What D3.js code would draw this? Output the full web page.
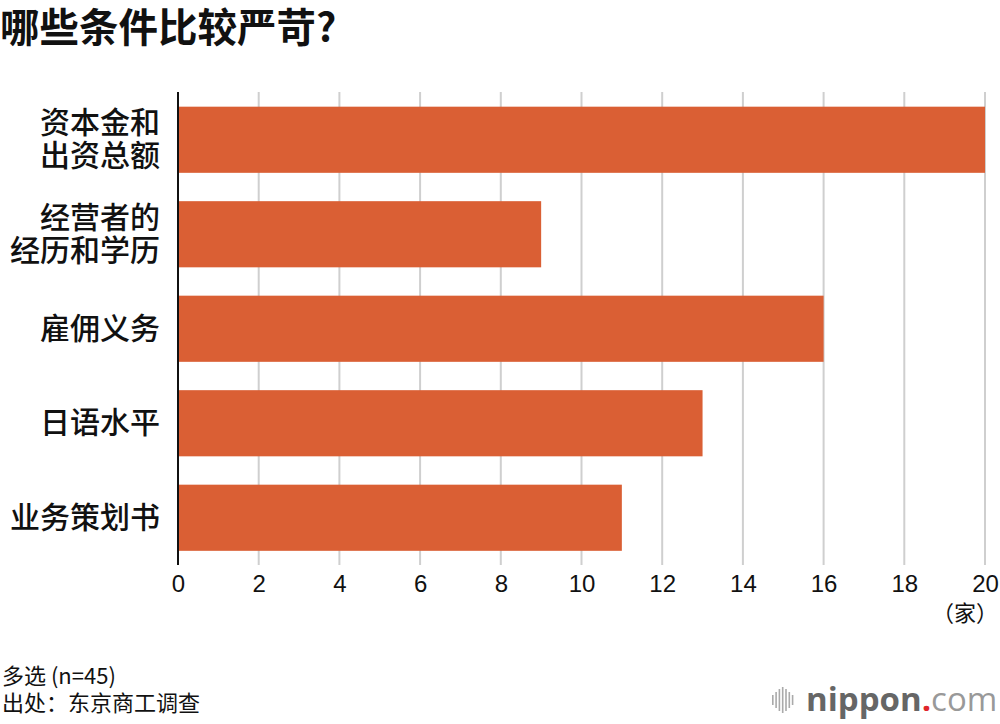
<!DOCTYPE html>
<html>
<head>
<meta charset="utf-8">
<script src="https://cdn.jsdelivr.net/npm/d3@7"></script>
<style>
  body { margin: 0; background: #fff; }
  text { font-family: "Liberation Sans", "Noto Sans CJK SC", sans-serif; }
  .cjk { font-family: "Noto Sans CJK SC", sans-serif; }
</style>
</head>
<body>
<svg width="1000" height="724"></svg>
<script>
// 数据
let categories = [["资本金和", "出资总额"], ["经营者的", "经历和学历"], ["雇佣义务"], ["日语水平"], ["业务策划书"]];
let values = [20, 9, 16, 13, 11];
let xTicks = [0, 2, 4, 6, 8, 10, 12, 14, 16, 18, 20];

let svg = d3.select("svg");

// 标题
svg.append("text")
  .attr("class", "cjk")
  .attr("x", 0).attr("y", 42)
  .attr("font-size", 39.5).attr("font-weight", "bold")
  .attr("fill", "#111")
  .text("哪些条件比较严苛?");

let x = d3.scaleLinear().domain([0, 20]).range([178, 985]);
let y = d3.scaleBand()
  .domain(d3.range(values.length))
  .range([92.5, 565])
  .paddingInner(0.3)
  .paddingOuter(0.15);

// 网格线
svg.selectAll("line.grid")
  .data(xTicks.slice(1))
  .enter().append("line")
  .attr("class", "grid")
  .attr("x1", d => x(d)).attr("x2", d => x(d))
  .attr("y1", 92).attr("y2", 565)
  .attr("stroke", "#cfcfcf").attr("stroke-width", 2);

// 柱
svg.selectAll("rect.bar")
  .data(values)
  .enter().append("rect")
  .attr("class", "bar")
  .attr("x", x(0))
  .attr("y", (d, i) => y(i))
  .attr("width", d => x(d) - x(0))
  .attr("height", y.bandwidth())
  .attr("fill", "#da5f34");

// 纵轴线
svg.append("line")
  .attr("x1", x(0)).attr("x2", x(0))
  .attr("y1", 92).attr("y2", 565)
  .attr("stroke", "#111").attr("stroke-width", 2);

// 分类标签
categories.forEach(function(lines, i) {
  let cy = y(i) + y.bandwidth() / 2;
  let lh = 33;
  lines.forEach(function(s, j) {
    svg.append("text")
      .attr("class", "cjk")
      .attr("text-anchor", "end")
      .attr("font-size", 30)
      .attr("font-weight", 500)
      .attr("fill", "#111")
      .attr("x", 160)
      .attr("y", cy + (j - (lines.length - 1) / 2) * lh + 10)
      .text(s);
  });
});

// 横轴刻度
let xAxis = svg.append("g")
  .attr("transform", "translate(0,565)")
  .call(d3.axisBottom(x).tickValues(xTicks).tickSize(0).tickPadding(0));
xAxis.select(".domain").remove();
xAxis.selectAll("text")
  .attr("y", 27)
  .attr("dy", 0)
  .attr("font-size", 24)
  .attr("fill", "#111")
  .style("font-family", "'Liberation Sans', sans-serif");

svg.append("text")
  .attr("class", "cjk")
  .attr("x", 998).attr("y", 621)
  .attr("text-anchor", "end")
  .attr("font-size", 22)
  .attr("fill", "#111")
  .text("（家）");

// 注释
svg.append("text")
  .attr("class", "cjk")
  .attr("x", 2).attr("y", 684)
  .attr("font-size", 22).attr("fill", "#111")
  .text("多选 (n=45)");
svg.append("text")
  .attr("class", "cjk")
  .attr("x", 2).attr("y", 711)
  .attr("font-size", 22).attr("fill", "#111")
  .text("出处：东京商工调查");

// nippon.com 标志
let logo = svg.append("g").attr("transform", "translate(772,700)");
let bars = [10, 16, 22, 26, 22, 16, 10];
logo.selectAll("rect")
  .data(bars)
  .enter().append("rect")
  .attr("x", (d, i) => i * 3.3)
  .attr("y", d => -d / 2)
  .attr("width", 1.6)
  .attr("height", d => d)
  .attr("fill", "#aaa");
let lt = svg.append("text")
  .attr("x", 806).attr("y", 711)
  .attr("font-size", 33)
  .style("font-family", "'Open Sans', sans-serif");
lt.append("tspan").attr("fill", "#666").attr("font-weight", "bold").text("nippon");
lt.append("tspan").attr("fill", "#e0262b").attr("font-weight", "bold").text(".");
lt.append("tspan").attr("fill", "#999").text("com");
</script>
</body>
</html>
